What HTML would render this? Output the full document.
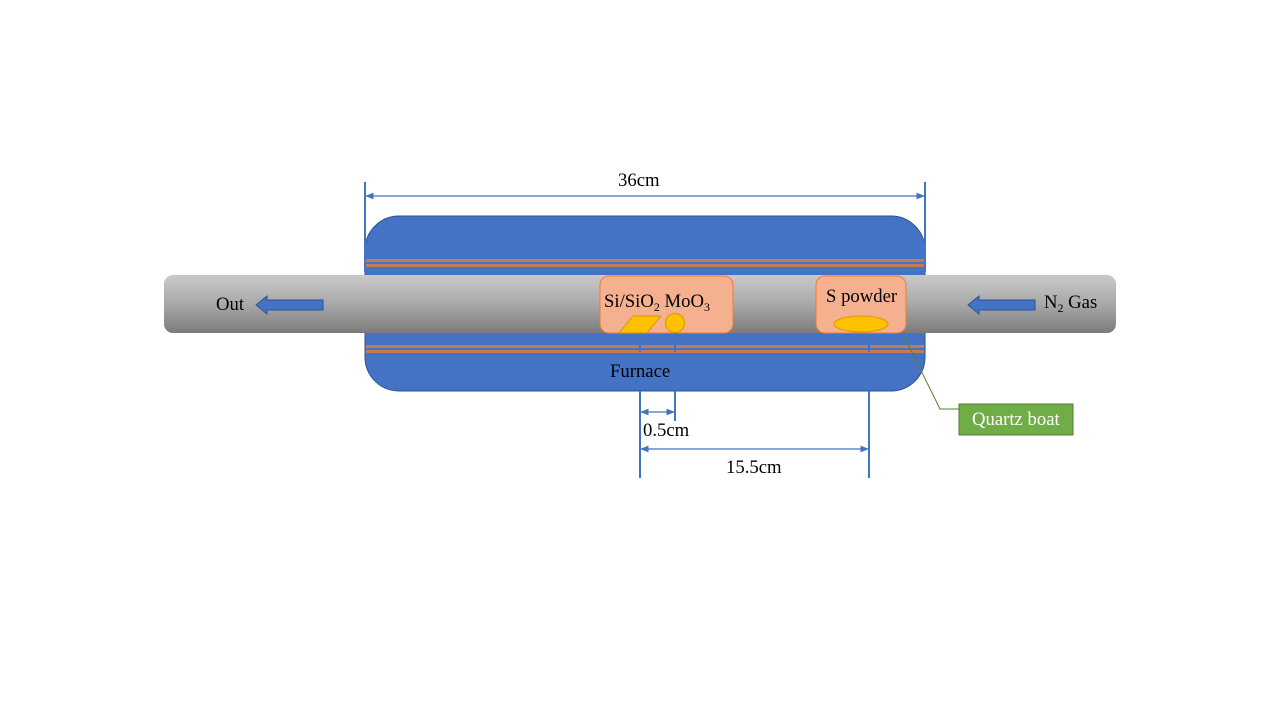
<!DOCTYPE html>
<html><head><meta charset="utf-8"><style>
html,body{margin:0;padding:0;background:#fff;}
svg{display:block;}
text{font-family:"Liberation Serif",serif;font-size:18.7px;fill:#000;}
</style></head><body>
<svg width="1280" height="720" viewBox="0 0 1280 720" xmlns="http://www.w3.org/2000/svg">
<defs>
<linearGradient id="tg" x1="0" y1="0" x2="0" y2="1">
<stop offset="0" stop-color="#c9c9c9"/><stop offset="0.5" stop-color="#a9a9a9"/><stop offset="1" stop-color="#7b7b7b"/>
</linearGradient>
<marker id="ah" viewBox="0 0 10 10" refX="9" refY="5" markerWidth="7" markerHeight="7" orient="auto-start-reverse">
<path d="M0,1 L10,5 L0,9 z" fill="#4472c4"/></marker>
</defs>
<rect x="365" y="216" width="560" height="175" rx="34" fill="#4472c4" stroke="#2f528f" stroke-width="1"/>
<g fill="#c47a52">
<rect x="366" y="259" width="558" height="3"/><rect x="366" y="264" width="558" height="3"/>
<rect x="366" y="345" width="558" height="3"/><rect x="366" y="350" width="558" height="3"/>
</g>
<rect x="164" y="275" width="952" height="58" rx="9" fill="url(#tg)"/>
<rect x="600" y="276" width="133" height="57" rx="9" fill="#f5b090" stroke="#ed7d31" stroke-width="1"/>
<polygon points="619,333 633,316 661,316 647,333" fill="#ffc000" stroke="#d49c00" stroke-width="1"/>
<circle cx="675" cy="323" r="9.5" fill="#ffc000" stroke="#d49c00" stroke-width="1"/>
<rect x="816" y="276" width="90" height="57" rx="9" fill="#f5b090" stroke="#ed7d31" stroke-width="1"/>
<ellipse cx="861" cy="324" rx="27" ry="8" fill="#ffc000" stroke="#d49c00" stroke-width="1"/>
<text x="604" y="307">Si/SiO<tspan font-size="12" dy="4">2</tspan><tspan dy="-4"> MoO</tspan><tspan font-size="12" dy="4">3</tspan></text>
<text x="826" y="302">S powder</text>
<text x="610" y="377">Furnace</text>
<polygon points="256,305 267,296 267,300 323,300 323,310 267,310 267,314" fill="#4472c4" stroke="#2f528f" stroke-width="1"/>
<polygon points="968,305 979,296 979,300 1035,300 1035,310 979,310 979,314" fill="#4472c4" stroke="#2f528f" stroke-width="1"/>
<text x="216" y="310">Out</text>
<text x="1044" y="308">N<tspan font-size="12" dy="4">2</tspan><tspan dy="-4"> Gas</tspan></text>
<g stroke="#4472c4" stroke-width="2" fill="none">
<line x1="365" y1="182" x2="365" y2="272"/>
<line x1="925" y1="182" x2="925" y2="272"/>
<line x1="640" y1="333" x2="640" y2="352"/>
<line x1="675" y1="333" x2="675" y2="352"/>
<line x1="869" y1="344" x2="869" y2="352"/>
<line x1="640" y1="391" x2="640" y2="478"/>
<line x1="675" y1="391" x2="675" y2="421"/>
<line x1="869" y1="391" x2="869" y2="478"/>
</g>
<g stroke="#4472c4" stroke-width="1.2">
<line x1="366" y1="196" x2="924" y2="196" marker-start="url(#ah)" marker-end="url(#ah)"/>
<line x1="641" y1="412" x2="674" y2="412" marker-start="url(#ah)" marker-end="url(#ah)"/>
<line x1="641" y1="449" x2="868" y2="449" marker-start="url(#ah)" marker-end="url(#ah)"/>
</g>
<text x="618" y="186">36cm</text>
<text x="643" y="436">0.5cm</text>
<text x="726" y="473">15.5cm</text>
<polyline points="903,334 940,409 959,409" fill="none" stroke="#548235" stroke-width="1"/>
<rect x="959" y="404" width="114" height="31" fill="#70ad47" stroke="#507e32" stroke-width="1"/>
<text x="972" y="425" style="fill:#fff">Quartz boat</text>
</svg>
</body></html>
